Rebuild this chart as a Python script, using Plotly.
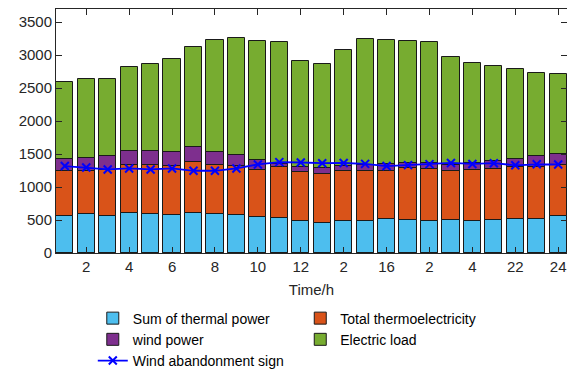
import plotly.graph_objects as go

hours = list(range(1, 25))
tick_vals = [2, 4, 6, 8, 10, 12, 14, 16, 18, 20, 22, 24]
tick_text = ["2", "4", "6", "8", "10", "12", "2", "16", "2", "4", "22", "24"]

# Bar tops (bars drawn overlapping)
thermal_sum = [555, 585, 565, 600, 590, 583, 605, 585, 573, 553, 530, 488,
               455, 488, 485, 513, 500, 485, 495, 485, 503, 518, 513, 560]
thermo_total = [1240, 1240, 1257, 1340, 1340, 1323, 1378, 1340, 1315, 1255, 1300, 1228,
                1205, 1248, 1248, 1240, 1282, 1267, 1238, 1262, 1268, 1300, 1303, 1330]
wind_power = [1428, 1438, 1468, 1549, 1554, 1529, 1604, 1529, 1480, 1410, 1345, 1305,
              1285, 1325, 1335, 1345, 1372, 1362, 1330, 1365, 1398, 1433, 1466, 1508]
electric_load = [2590, 2645, 2640, 2826, 2872, 2942, 3118, 3224, 3259, 3219, 3198, 2912,
                 2872, 3078, 3239, 3234, 3219, 3204, 2967, 2882, 2841, 2791, 2736, 2716]
wind_abandon = [1318, 1297, 1267, 1282, 1267, 1282, 1247, 1247, 1282, 1343, 1378, 1372,
                1362, 1365, 1352, 1318, 1333, 1348, 1366, 1350, 1362, 1330, 1345, 1342]

FONT = "Arial, Liberation Sans, sans-serif"
TXT = "#262626"
edge = dict(color="#1a1a1a", width=1)

fig = go.Figure()
fig.add_trace(go.Bar(x=hours, y=electric_load, name="Electric load", width=0.8,
                     marker=dict(color="#77AC30", line=edge), legend="legend2", legendrank=4))
fig.add_trace(go.Bar(x=hours, y=wind_power, name="wind power", width=0.8,
                     marker=dict(color="#7E2F8E", line=edge), legend="legend", legendrank=2))
fig.add_trace(go.Bar(x=hours, y=thermo_total, name="Total thermoelectricity", width=0.8,
                     marker=dict(color="#D95319", line=edge), legend="legend2", legendrank=1))
fig.add_trace(go.Bar(x=hours, y=thermal_sum, name="Sum of thermal power", width=0.8,
                     marker=dict(color="#4DBEEE", line=edge), legend="legend", legendrank=1))
fig.add_trace(go.Scatter(x=hours, y=wind_abandon, name="Wind abandonment sign",
                         mode="lines+markers", line=dict(color="#0000FF", width=1.8),
                         marker=dict(symbol="x-thin", size=8, line=dict(color="#0000FF", width=2)),
                         legend="legend", legendrank=3))

leg_common = dict(orientation="v", yanchor="top", xanchor="left",
                  font=dict(family=FONT, size=14, color="#000000"),
                  bgcolor="rgba(0,0,0,0)", borderwidth=0, tracegroupgap=0,
                  itemwidth=30, traceorder="normal")

# page body has an 8px default margin, so the figure is 567x362 and offset accordingly
fig.update_layout(
    width=567, height=362,
    margin=dict(l=48, r=8, t=1, b=117, autoexpand=False),
    barmode="overlay", bargap=0,
    plot_bgcolor="white", paper_bgcolor="white",
    font=dict(family=FONT, size=15, color=TXT),
    legend=dict(x=0.072, y=-0.203, **leg_common),
    legend2=dict(x=0.478, y=-0.203, **leg_common),
    showlegend=True,
)
fig.update_xaxes(range=[0.59, 24.41], tickvals=tick_vals, ticktext=tick_text,
                 ticks="inside", ticklen=6, tickcolor="#262626", tickwidth=1,
                 showline=True, linecolor="#262626", linewidth=1, mirror="ticks",
                 showgrid=False, zeroline=False,
                 title=dict(text="Time/h", font=dict(family=FONT, size=15, color=TXT), standoff=10),
                 tickfont=dict(family=FONT, size=15, color=TXT))
fig.update_yaxes(range=[0, 3700], tickvals=[0, 500, 1000, 1500, 2000, 2500, 3000, 3500],
                 ticks="inside", ticklen=6, tickcolor="#262626", tickwidth=1,
                 showline=True, linecolor="#262626", linewidth=1, mirror="ticks",
                 showgrid=False, zeroline=False,
                 tickfont=dict(family=FONT, size=15, color=TXT))

fig.write_html("out.html")
